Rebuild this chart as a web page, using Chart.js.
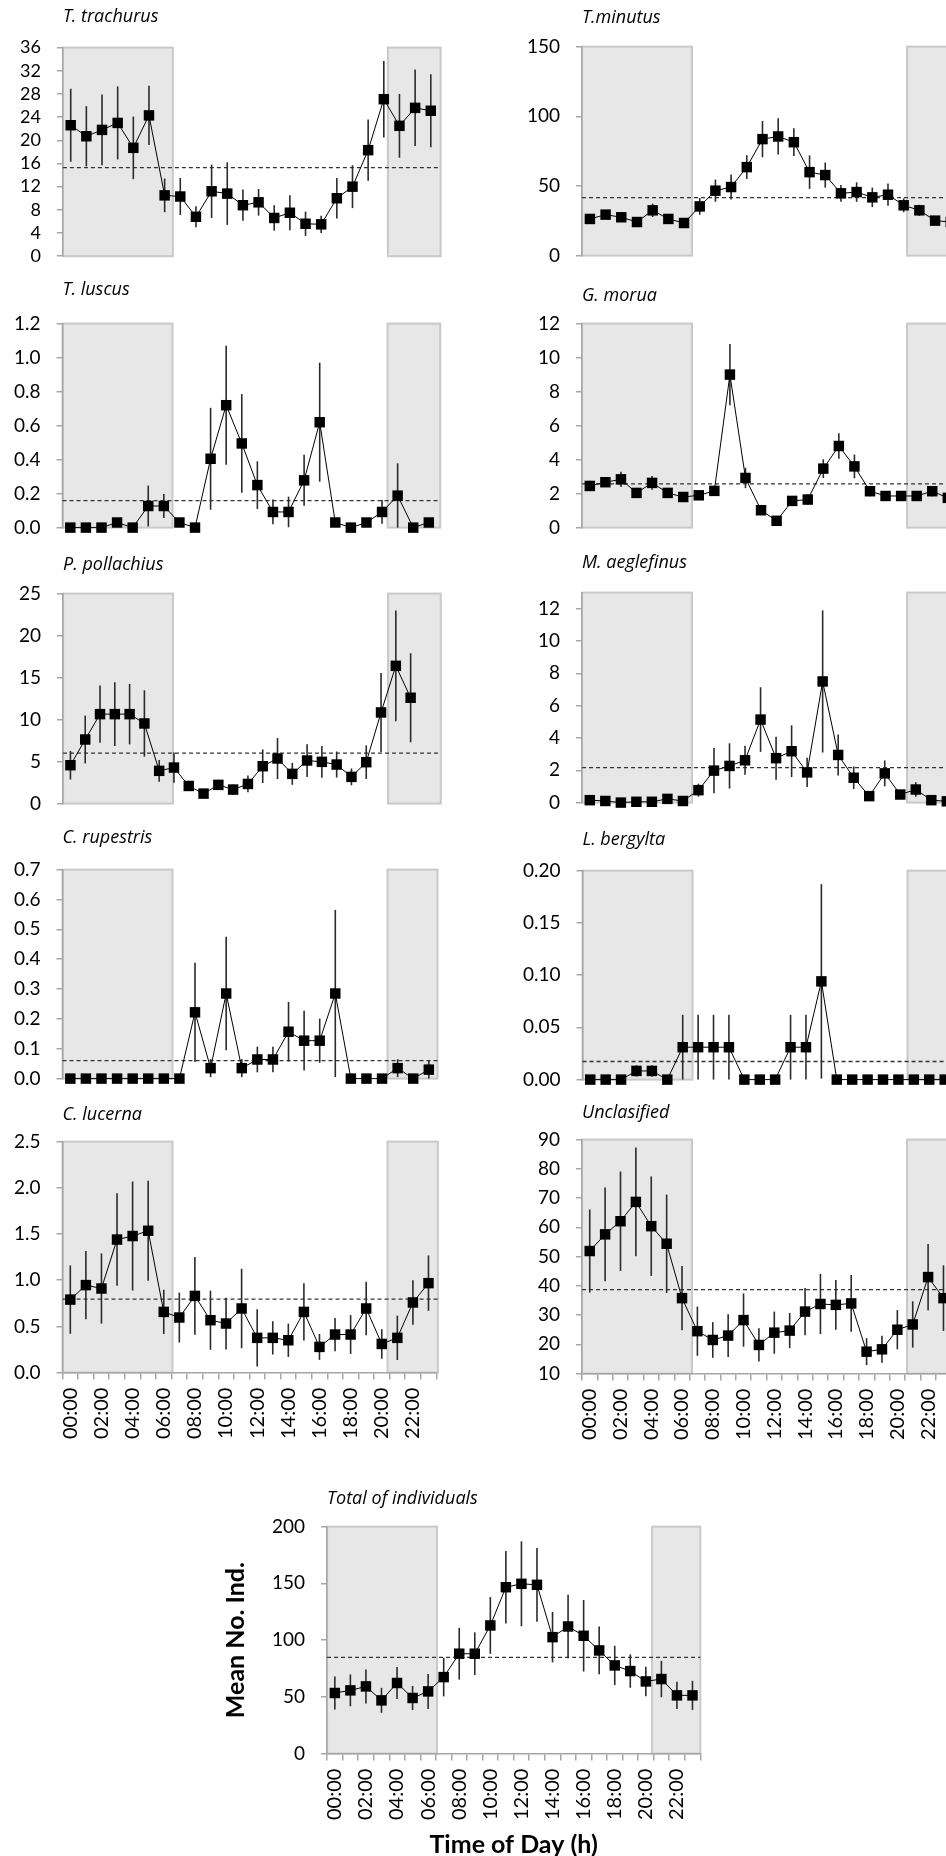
<!DOCTYPE html>
<html>
<head>
<meta charset="utf-8">
<script src="https://cdn.jsdelivr.net/npm/chart.js@4.4.1/dist/chart.umd.min.js"></script>
<style>
  html, body { margin: 0; padding: 0; background: #fff; }
  #page { position: relative; width: 946px; height: 1856px; overflow: hidden; }
  #page canvas { position: absolute; }
</style>
</head>
<body>
<div id="page"></div>
<script>
'use strict';

// hour categories
const hours = ['00:00', '01:00', '02:00', '03:00', '04:00', '05:00', '06:00', '07:00',
  '08:00', '09:00', '10:00', '11:00', '12:00', '13:00', '14:00', '15:00',
  '16:00', '17:00', '18:00', '19:00', '20:00', '21:00', '22:00', '23:00'];

// mean abundance per hour and its error (+/-)
const trachurus = [22.6, 20.7, 21.8, 23.0, 18.7, 24.3, 10.5, 10.3, 6.8, 11.2, 10.8, 8.8, 9.3, 6.6, 7.5, 5.6, 5.5, 10.0, 12.0, 18.3, 27.1, 22.5, 25.6, 25.1];
const trachurusErr = [6.3, 5.2, 6.1, 6.3, 5.4, 5.1, 2.9, 3.2, 1.8, 4.6, 5.4, 2.7, 2.3, 2.2, 3.0, 2.1, 1.5, 3.5, 3.7, 5.3, 6.6, 5.5, 6.6, 6.3];

const minutus = [26.3, 29.4, 27.5, 24.1, 32.5, 26.3, 23.4, 35.3, 46.6, 49.2, 63.5, 83.6, 85.5, 81.4, 59.9, 57.8, 44.7, 45.6, 41.8, 43.7, 36.1, 32.5, 25.1, 24.1];
const minutusErr = [3, 3, 3, 3, 4.8, 3, 3, 6, 8, 9, 8.5, 13, 13, 10, 12, 9, 6, 7, 7, 8, 5, 4, 3, 3];

const luscus = [0, 0, 0, 0.03, 0, 0.127, 0.127, 0.03, 0, 0.405, 0.72, 0.495, 0.25, 0.092, 0.092, 0.278, 0.62, 0.03, 0, 0.03, 0.092, 0.188, 0, 0.03];
const luscusErr = [0, 0, 0, 0.02, 0, 0.12, 0.07, 0.02, 0, 0.3, 0.35, 0.29, 0.14, 0.073, 0.09, 0.15, 0.35, 0.02, 0, 0.02, 0.07, 0.19, 0, 0.02];

const morua = [2.45, 2.67, 2.84, 2.04, 2.63, 2.04, 1.8, 1.9, 2.16, 9.0, 2.92, 1.02, 0.4, 1.57, 1.65, 3.47, 4.8, 3.6, 2.14, 1.86, 1.86, 1.86, 2.14, 1.75];
const moruaErr = [0.3, 0.2, 0.45, 0.3, 0.4, 0.3, 0.3, 0.25, 0.3, 1.8, 0.6, 0.2, 0.1, 0.2, 0.3, 0.55, 0.75, 0.7, 0.3, 0.15, 0.15, 0.15, 0.3, 0.3];

const pollachius = [4.57, 7.63, 10.65, 10.65, 10.65, 9.54, 3.9, 4.29, 2.1, 1.19, 2.23, 1.67, 2.34, 4.45, 5.37, 3.54, 5.13, 4.97, 4.65, 3.18, 4.93, 10.85, 16.4, 12.6];
const pollachiusErr = [1.7, 2.85, 3.4, 3.8, 3.6, 3.95, 1.3, 1.8, 0.6, 0.3, 0.6, 0.6, 1.0, 2.0, 2.45, 1.3, 1.95, 1.9, 1.55, 1.0, 2.0, 4.7, 6.6, 5.3];

const aeglefinus = [0.15, 0.1, 0.0, 0.05, 0.05, 0.23, 0.1, 0.77, 1.98, 2.27, 2.62, 5.14, 2.75, 3.18, 1.87, 7.5, 2.95, 1.54, 0.4, 1.81, 0.5, 0.81, 0.15, 0.08];
const aeglefinusErr = [0.1, 0.1, 0.05, 0.1, 0.1, 0.1, 0.1, 0.4, 1.4, 1.4, 0.9, 2.0, 1.33, 1.6, 0.9, 4.4, 1.27, 0.7, 0.15, 0.8, 0.15, 0.45, 0.1, 0.1];

const rupestris = [0, 0, 0, 0, 0, 0, 0, 0, 0.222, 0.035, 0.285, 0.035, 0.064, 0.064, 0.157, 0.127, 0.127, 0.285, 0, 0, 0, 0.035, 0, 0.03];
const rupestrisErr = [0, 0, 0, 0, 0, 0, 0, 0, 0.166, 0.03, 0.19, 0.03, 0.043, 0.043, 0.1, 0.1, 0.074, 0.28, 0, 0, 0, 0.03, 0, 0.03];

const bergylta = [0, 0, 0, 0.0083, 0.0083, 0, 0.031, 0.031, 0.031, 0.031, 0, 0, 0, 0.031, 0.031, 0.094, 0, 0, 0, 0, 0, 0, 0, 0];
const bergyltaErr = [0, 0, 0, 0.0055, 0.0055, 0, 0.031, 0.031, 0.031, 0.031, 0, 0, 0, 0.031, 0.031, 0.093, 0, 0, 0, 0, 0, 0, 0, 0];

const lucerna = [0.79, 0.947, 0.91, 1.44, 1.478, 1.535, 0.657, 0.596, 0.83, 0.567, 0.531, 0.694, 0.376, 0.376, 0.35, 0.657, 0.278, 0.412, 0.412, 0.694, 0.31, 0.376, 0.759, 0.968];
const lucernaErr = [0.37, 0.37, 0.38, 0.5, 0.59, 0.54, 0.24, 0.27, 0.42, 0.32, 0.28, 0.43, 0.31, 0.18, 0.18, 0.31, 0.14, 0.18, 0.21, 0.29, 0.16, 0.24, 0.24, 0.3];

const unclasified = [51.9, 57.6, 62.1, 68.7, 60.4, 54.4, 35.8, 24.5, 21.5, 23.0, 28.3, 19.8, 24.0, 24.7, 31.2, 33.8, 33.5, 34.0, 17.5, 18.3, 25.0, 26.8, 43.0, 35.8];
const unclasifiedErr = [14.2, 16, 17, 18.6, 17, 16.8, 11, 8.4, 6.1, 7.3, 9.1, 5.7, 7.2, 6, 8.1, 10.3, 8.5, 9.7, 4.6, 4.6, 6.7, 7.9, 11.3, 11.2];

const total = [53.4, 55.7, 59.2, 46.9, 62.2, 49.0, 54.8, 67.4, 88.0, 88.0, 112.9, 146.6, 149.6, 148.7, 102.6, 112.0, 103.8, 90.9, 77.7, 72.7, 63.6, 65.7, 51.3, 51.3];
const totalErr = [14.6, 14, 15, 11, 14.2, 10.6, 15.4, 17, 22.8, 18.8, 25, 32, 37.4, 32.5, 22.2, 28, 31.5, 21, 17.3, 14.7, 13, 16, 12, 12.8];

// overall daily mean (dashed line), panel order
const means = [15.3, 41.6, 0.159, 2.57, 6.0, 2.16, 0.06, 0.0173, 0.795, 38.7, 84.8];

const FONT = 'Lato, "Open Sans", sans-serif';
const TITLE_FONT = '"Open Sans", Lato, sans-serif';
const AXIS = '#a6a6a6';
const SHADE = '#e7e7e7';
const SHADE_EDGE = '#c9c9c9';
// night shading, px offsets from the plot's left edge (null = to frame end)
const nightBoxes = [[0, 110], [325, null]];

// layout of each panel: plot area in page px
const panels = [
  { title: 'T. trachurus', values: trachurus, err: trachurusErr, mean: means[0], min: 0, max: 36, step: 4, dec: 0,
    left: 63, top: 47.7, bottom: 256, catW: 15.65, frameW: 377.7, gap: 20, tickSize: 18 },
  { title: 'T.minutus', values: minutus, err: minutusErr, mean: means[1], min: 0, max: 150, step: 50, dec: 0,
    left: 582, top: 46.7, bottom: 256, catW: 15.67, frameW: 376, gap: 18 },
  { title: 'T. luscus', values: luscus, err: luscusErr, mean: means[2], min: 0, max: 1.2, step: 0.2, dec: 1,
    left: 63, top: 323.3, bottom: 527.7, catW: 15.6, frameW: 377.7, gap: 23 },
  { title: 'G. morua', values: morua, err: moruaErr, mean: means[3], min: 0, max: 12, step: 2, dec: 0,
    left: 582, top: 323.3, bottom: 527.3, catW: 15.56, frameW: 376, gap: 17 },
  { title: 'P. pollachius', values: pollachius, err: pollachiusErr, mean: means[4], min: 0, max: 25, step: 5, dec: 0,
    left: 63, top: 593.7, bottom: 803.3, catW: 14.78, frameW: 377.7, gap: 18 },
  { title: 'M. aeglefinus', values: aeglefinus, err: aeglefinusErr, mean: means[5], min: 0, max: 13, step: 2, dec: 0,
    left: 582, top: 592.7, bottom: 802.5, catW: 15.53, frameW: 376, gap: 19 },
  { title: 'C. rupestris', values: rupestris, err: rupestrisErr, mean: means[6], min: 0, max: 0.7, step: 0.1, dec: 1,
    left: 63, top: 870, bottom: 1079, catW: 15.6, frameW: 375, gap: 21 },
  { title: 'L. bergylta', values: bergylta, err: bergyltaErr, mean: means[7], min: 0, max: 0.2, step: 0.05, dec: 2,
    left: 582.3, top: 870.7, bottom: 1079.3, catW: 15.39, frameW: 376, gap: 20 },
  { title: 'C. lucerna', values: lucerna, err: lucernaErr, mean: means[8], min: 0, max: 2.5, step: 0.5, dec: 1,
    left: 62.3, top: 1141.7, bottom: 1372.3, catW: 15.64, frameW: 375.4, gap: 16, axisX: true },
  { title: 'Unclasified', values: unclasified, err: unclasifiedErr, mean: means[9], min: 10, max: 90, step: 10, dec: 0,
    left: 582, top: 1139.3, bottom: 1373.3, catW: 15.45, frameW: 376, gap: 16, axisX: true },
  { title: 'Total of individuals', values: total, err: totalErr, mean: means[10], min: 0, max: 200, step: 50, dec: 0,
    left: 326.7, top: 1526.7, bottom: 1754, catW: 15.56, frameW: 373.3, gap: 17, axisX: true,
    yTitle: 'Mean No. Ind.', xTitle: 'Time of Day (h)' }
];

function marksPlugin(p) {
  return {
    id: 'panelMarks',
    beforeDraw(chart) {
      const a = chart.chartArea;
      const ctx = chart.ctx;
      ctx.save();
      ctx.fillStyle = SHADE;
      ctx.strokeStyle = SHADE_EDGE;
      ctx.lineWidth = 2;
      nightBoxes.forEach(([s, e]) => {
        const x0 = a.left + s;
        const x1 = a.left + (e == null ? p.frameW : e);
        ctx.fillRect(x0, a.top, x1 - x0, a.bottom - a.top);
        ctx.strokeRect(x0, a.top, x1 - x0, a.bottom - a.top);
      });
      ctx.restore();
    },
    beforeDatasetsDraw(chart) {
      const a = chart.chartArea;
      const ctx = chart.ctx;
      const xs = chart.scales.x;
      const ys = chart.scales.y;
      ctx.save();
      // daily mean
      const ym = ys.getPixelForValue(p.mean);
      ctx.strokeStyle = '#333';
      ctx.lineWidth = 1.3;
      ctx.setLineDash([4, 3]);
      ctx.beginPath();
      ctx.moveTo(a.left, ym);
      ctx.lineTo(a.left + p.frameW, ym);
      ctx.stroke();
      ctx.setLineDash([]);
      // error bars
      ctx.strokeStyle = '#2b2b2b';
      ctx.lineWidth = 1.6;
      p.values.forEach((v, i) => {
        const e = p.err[i];
        if (!e) return;
        const x = xs.getPixelForValue(i);
        const y1 = ys.getPixelForValue(Math.min(v + e, ys.max));
        const y2 = ys.getPixelForValue(Math.max(v - e, ys.min));
        ctx.beginPath();
        ctx.moveTo(x, y1);
        ctx.lineTo(x, y2);
        ctx.stroke();
      });
      ctx.restore();
    }
  };
}

function makeConfig(p) {
  const padRight = Math.max(4, p.frameW - 24 * p.catW + 4);
  return {
    type: 'line',
    data: {
      labels: hours,
      datasets: [{
        data: p.values,
        borderColor: '#000',
        borderWidth: 1,
        pointStyle: 'rect',
        pointRadius: 7.4,
        pointHoverRadius: 7.4,
        pointBackgroundColor: '#000',
        pointBorderColor: '#000',
        pointBorderWidth: 0,
        tension: 0,
        clip: false
      }]
    },
    options: {
      responsive: false,
      maintainAspectRatio: false,
      animation: false,
      devicePixelRatio: 1,
      events: [],
      layout: { padding: { left: 0, right: padRight, top: 0, bottom: 4 } },
      plugins: {
        legend: { display: false },
        tooltip: { enabled: false },
        title: {
          display: true,
          text: p.title,
          align: 'start',
          fullSize: false,
          color: '#000',
          font: { family: TITLE_FONT, size: 18, style: 'italic', weight: 'normal' },
          padding: { top: 0, bottom: p.gap }
        }
      },
      scales: {
        x: {
          type: 'category',
          offset: true,
          display: !!p.axisX,
          grid: { offset: true, drawOnChartArea: false, drawTicks: true, tickLength: 7, color: AXIS, lineWidth: 1.5 },
          border: { color: AXIS, width: 1.5 },
          ticks: {
            autoSkip: false, minRotation: 90, maxRotation: 90, padding: 8, color: '#000',
            font: { family: FONT, size: 20 },
            callback: (v, idx) => (idx % 2 === 0 ? hours[idx] : '')
          },
          title: {
            display: !!p.xTitle, text: p.xTitle || '', color: '#000',
            font: { family: FONT, size: 25, weight: 'bold' },
            padding: { top: 2, bottom: 4 }
          }
        },
        y: {
          min: p.min,
          max: p.max,
          grid: { drawOnChartArea: false, drawTicks: true, tickLength: 6, color: AXIS, lineWidth: 1.5 },
          border: { color: AXIS, width: 1.5 },
          ticks: {
            stepSize: p.step, includeBounds: false, autoSkip: false, padding: 16, color: '#000',
            font: { family: FONT, size: p.tickSize || 19 },
            callback: v => Number(v).toFixed(p.dec)
          },
          title: {
            display: !!p.yTitle, text: p.yTitle || '', color: '#000',
            font: { family: FONT, size: 25, weight: 'bold' },
            padding: { top: 4, bottom: 5 }
          }
        }
      }
    },
    plugins: [marksPlugin(p)]
  };
}

const page = document.getElementById('page');

// build a panel, then size and shift its canvas so the plot area lands where wanted
function place(p) {
  const canvas = document.createElement('canvas');
  page.appendChild(canvas);
  const wantW = p.catW * 24;
  const wantH = p.bottom - p.top;
  let w = Math.round(wantW + 160);
  let h = Math.round(wantH + 120);
  canvas.width = w;
  canvas.height = h;
  let chart = new Chart(canvas, makeConfig(p));
  let a = chart.chartArea;
  w = Math.round(w + wantW - (a.right - a.left));
  h = Math.round(h + wantH - (a.bottom - a.top));
  chart.destroy();
  canvas.width = w;
  canvas.height = h;
  chart = new Chart(canvas, makeConfig(p));
  a = chart.chartArea;
  canvas.style.left = (p.left - a.left) + 'px';
  canvas.style.top = (p.top - a.top) + 'px';
  return chart;
}

const charts = panels.map(place);
</script>
</body>
</html>
